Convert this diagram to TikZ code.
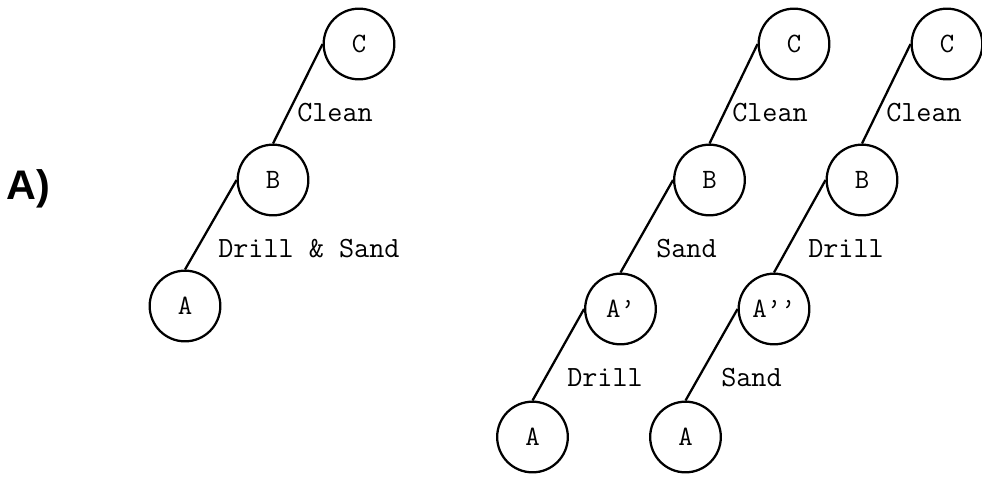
\documentclass[tikz,border=0pt]{standalone}
\usepackage{fontspec}
\newfontfamily\headfont{Liberation Sans}
\usetikzlibrary{positioning}
\tikzset{
  state/.style={circle,draw,line width=1.7pt,minimum size=53pt,inner sep=0pt,font=\ttfamily\fontsize{21}{21}\selectfont},
  step label/.style={anchor=west,inner sep=0pt,font=\ttfamily\fontsize{22}{22}\selectfont},
  mythick/.style={line width=1.7pt}
}
\begin{document}
\begin{tikzpicture}[x=0.75pt,y=-0.75pt]
    \useasboundingbox (0,0) rectangle (982,476);
    \node at (28, 189) [font=\headfont\bfseries\fontsize{31}{31}\selectfont] (head) {A)};

    % one step
    \node at (359, 44) [state] (C) {C};
    \node at (273, 180) [state] (B) {B};
    \node at (185, 306) [state] (A) {A};
    \node at (297, 113) [step label] (lC) {Clean};
    \node at (218, 249) [step label] (lDS) {Drill \& Sand};

    % sand after drill
    \node at (794, 44) [state] (C1) {C};
    \node at (709.5, 180) [state] (B1) {B};
    \node at (620.5, 309) [state] (Ap1) {A’};
    \node at (532.5, 437) [state] (A1) {A};
    \node at (732, 113) [step label] (lC1) {Clean};
    \node at (656, 249) [step label] (lS1) {Sand};
    \node at (567, 378) [step label] (lD1) {Drill};

    % drill after sand
    \node at (947, 44) [state] (C2) {C};
    \node at (862, 180) [state] (B2) {B};
    \node at (774, 309) [state] (App2) {A’’};
    \node at (685.5, 437) [state] (A2) {A};
    \node at (886, 113) [step label] (lC2) {Clean};
    \node at (808, 249) [step label] (lD2) {Drill};
    \node at (721, 378) [step label] (lS2) {Sand};

    \path[mythick]
    (B.north) edge (C.west)
    (A.north) edge (B.west)

    (B1.north) edge (C1.west)
    (Ap1.north) edge (B1.west)
    (A1.north) edge (Ap1.west)

    (B2.north) edge (C2.west)
    (App2.north) edge (B2.west)
    (A2.north) edge (App2.west);
\end{tikzpicture}
\end{document}
